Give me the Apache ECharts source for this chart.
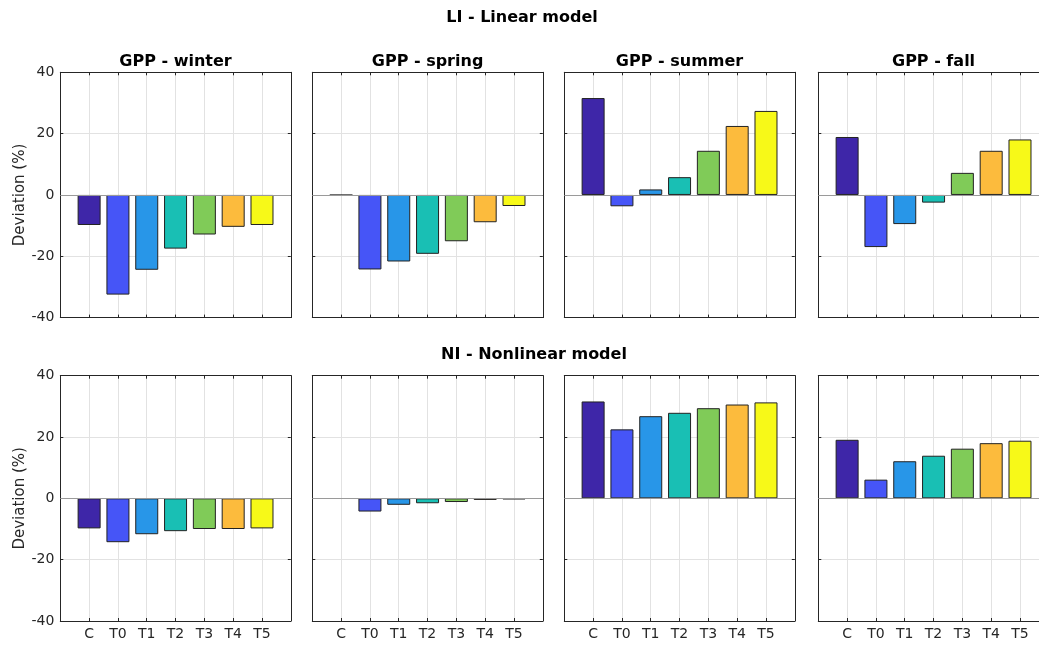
<!DOCTYPE html>
<html>
<head>
<meta charset="utf-8">
<script src="https://cdn.jsdelivr.net/npm/echarts@6/dist/echarts.min.js"></script>
<style>
html,body{margin:0;padding:0;background:#fff;}
#chart{width:1039px;height:646px;}
</style>
</head>
<body>
<div id="chart"></div>
<script>
// ---- data ----
const categories = ['C', 'T0', 'T1', 'T2', 'T3', 'T4', 'T5'];
const seasons = ['winter', 'spring', 'summer', 'fall'];
const yTicks = [-40, -20, 0, 20, 40];

// LI - Linear model
const liWinter = [-9.8, -32.5, -24.4, -17.5, -12.9, -10.4, -9.8];
const liSpring = [-0.1, -24.3, -21.7, -19.2, -15.1, -8.9, -3.6];
const liSummer = [31.6, -3.7, 1.8, 5.8, 14.4, 22.5, 27.4];
const liFall   = [18.9, -17.0, -9.5, -2.5, 7.2, 14.4, 18.1];

// NI - Nonlinear model
const niWinter = [-9.8, -14.3, -11.7, -10.7, -10.0, -10.0, -9.8];
const niSpring = [-0.1, -4.3, -2.1, -1.6, -1.2, -0.5, -0.3];
const niSummer = [31.6, 22.5, 26.8, 27.9, 29.4, 30.6, 31.3];
const niFall   = [19.1, 6.1, 12.1, 13.9, 16.2, 18.0, 18.8];

// ---- styles ----
const barColors = ['#3e26a8', '#4655f7', '#2896e8', '#19bfb4', '#80cb58', '#fcbb3d', '#f7f918'];
const rows = [
  { title: 'LI - Linear model', titleX: 522, titleY: 18, top: 72.3, subTitles: true, data: [liWinter, liSpring, liSummer, liFall] },
  { title: 'NI - Nonlinear model', titleX: 534, titleY: 355, top: 375.7, subTitles: false, data: [niWinter, niSpring, niSummer, niFall] }
];
const lefts = [60.3, 312.3, 564.3, 818.3];
const pw = 230.5, ph = 245.3;
const axisColor = '#262626';
const gridColor = '#e2e2e2';
const FONT = 'DejaVu Sans';

const grids = [], xAxes = [], yAxes = [], series = [], graphics = [];

rows.forEach((row, r) => {
  graphics.push({
    type: 'text', x: row.titleX, y: row.titleY,
    style: { text: row.title, textAlign: 'center', textVerticalAlign: 'middle',
      font: 'bold 16px "DejaVu Sans"', fill: '#000' }
  });
  row.data.forEach((vals, c) => {
    const gi = grids.length;
    grids.push({ left: lefts[c], top: row.top, width: pw, height: ph, outerBoundsMode: 'none', containLabel: false });
    if (row.subTitles) {
      graphics.push({
        type: 'text', x: lefts[c] + pw / 2, y: row.top - 10,
        style: { text: 'GPP - ' + seasons[c], textAlign: 'center', textVerticalAlign: 'middle',
          font: 'bold 16px "DejaVu Sans"', fill: '#000' }
      });
    }
    const xBase = {
      type: 'value', gridIndex: gi, min: 0, max: 8, interval: 1,
      axisLine: { show: true, onZero: false, lineStyle: { color: axisColor, width: 1 } },
      axisTick: { show: true, inside: true, length: 3, lineStyle: { color: axisColor } }
    };
    xAxes.push(Object.assign({}, xBase, {
      position: 'bottom',
      splitLine: { show: true, lineStyle: { color: gridColor, width: 1 } },
      axisLabel: {
        show: r === 1, margin: 6, color: axisColor, fontSize: 14, fontFamily: FONT,
        showMinLabel: true, showMaxLabel: true,
        formatter: v => (v >= 1 && v <= 7) ? categories[v - 1] : ''
      }
    }));
    xAxes.push(Object.assign({}, xBase, {
      position: 'top', splitLine: { show: false }, axisLabel: { show: false }
    }));
    const yBase = {
      type: 'value', gridIndex: gi, min: yTicks[0], max: yTicks[yTicks.length - 1], interval: 20,
      axisLine: { show: true, onZero: false, lineStyle: { color: axisColor, width: 1 } },
      axisTick: { show: true, inside: true, length: 3, lineStyle: { color: axisColor } }
    };
    yAxes.push(Object.assign({}, yBase, {
      position: 'left',
      splitLine: { show: true, lineStyle: { color: gridColor, width: 1 } },
      axisLabel: { show: c === 0, margin: 6, color: axisColor, fontSize: 14, fontFamily: FONT },
      name: c === 0 ? 'Deviation (%)' : '',
      nameLocation: 'middle', nameGap: 32,
      nameTextStyle: { color: axisColor, fontSize: 15, fontFamily: FONT }
    }));
    yAxes.push(Object.assign({}, yBase, {
      position: 'right', splitLine: { show: false }, axisLabel: { show: false }
    }));
    series.push({
      type: 'bar', xAxisIndex: gi * 2, yAxisIndex: gi * 2, barWidth: 23,
      data: vals.map((v, i) => ({ value: [i + 1, v], itemStyle: { color: barColors[i] } })),
      itemStyle: { borderColor: '#222', borderWidth: 1 },
      animation: false,
      markLine: {
        silent: true, symbol: 'none', animation: false,
        label: { show: false },
        lineStyle: { color: '#9a9a9a', type: 'solid', width: 1 },
        data: [{ yAxis: 0 }]
      }
    });
  });
});

const chart = echarts.init(document.getElementById('chart'), null, { renderer: 'canvas' });
chart.setOption({
  backgroundColor: '#fff',
  animation: false,
  textStyle: { fontFamily: FONT },
  grid: grids,
  xAxis: xAxes,
  yAxis: yAxes,
  series: series,
  graphic: graphics
});
</script>
</body>
</html>
